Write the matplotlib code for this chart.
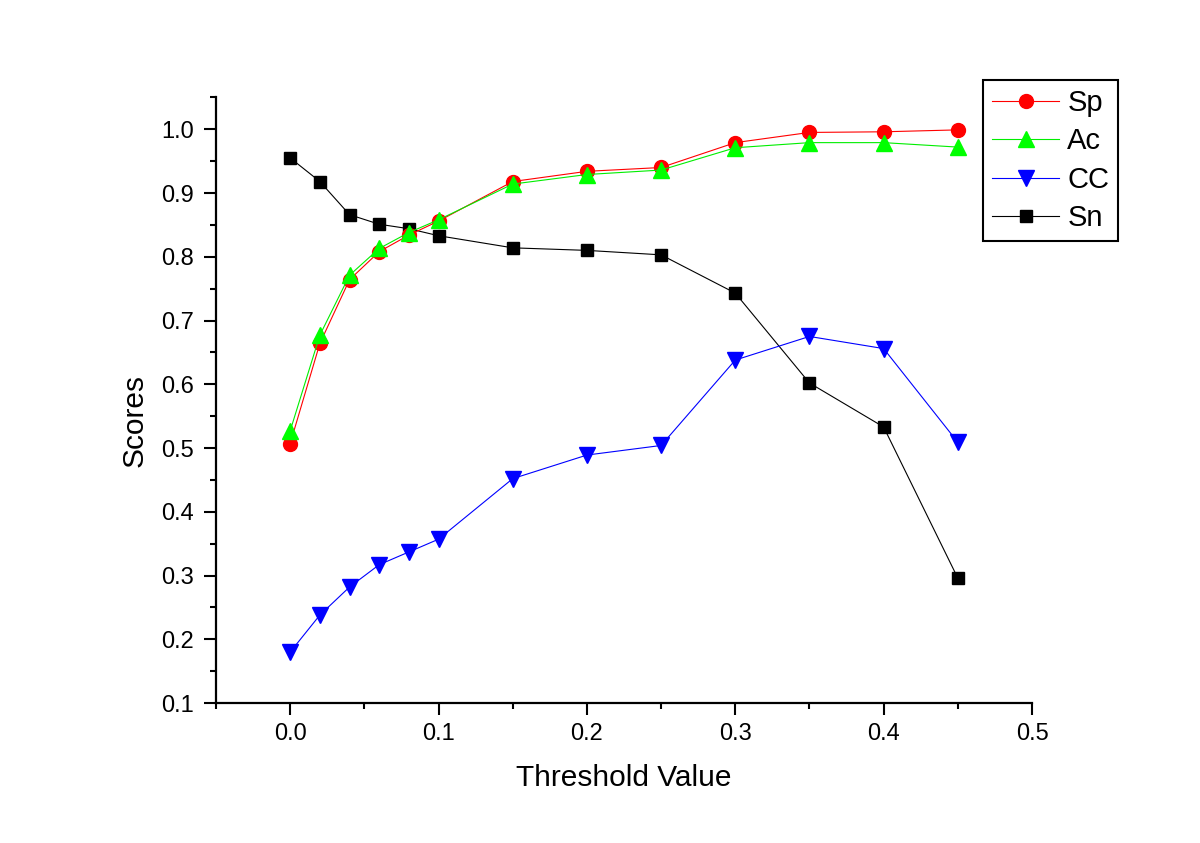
import matplotlib
matplotlib.use("Agg")
import matplotlib.pyplot as plt
from matplotlib.ticker import MultipleLocator, FormatStrFormatter

plt.rcParams['font.family'] = ['Liberation Sans', 'DejaVu Sans']

# Data
threshold = [0.0, 0.02, 0.04, 0.06, 0.08, 0.1, 0.15, 0.2, 0.25, 0.3, 0.35, 0.4, 0.45]
sp = [0.507, 0.664, 0.764, 0.808, 0.834, 0.856, 0.918, 0.934, 0.940, 0.979, 0.995, 0.996, 0.999]
ac = [0.527, 0.677, 0.771, 0.813, 0.838, 0.858, 0.914, 0.929, 0.936, 0.971, 0.979, 0.979, 0.972]
cc = [0.180, 0.238, 0.282, 0.317, 0.337, 0.357, 0.452, 0.489, 0.504, 0.638, 0.675, 0.656, 0.509]
sn = [0.955, 0.918, 0.866, 0.851, 0.844, 0.833, 0.814, 0.810, 0.803, 0.743, 0.602, 0.533, 0.296]
series_labels = ['Sp', 'Ac', 'CC', 'Sn']

fig = plt.figure(figsize=(12, 8.43), dpi=100)
ax = fig.add_axes([0.18, 0.166, 0.68, 0.7185])

lw = 0.8
h_sn, = ax.plot(threshold, sn, color='black', lw=lw, marker='s', ms=8.4, zorder=3)
h_cc, = ax.plot(threshold, cc, color='#0000ff', lw=lw, marker='v', ms=11, zorder=3)
h_sp, = ax.plot(threshold, sp, color='#ff0000', lw=lw, marker='o', ms=10, zorder=4)
h_ac, = ax.plot(threshold, ac, color='#00ee00', lw=lw, marker='^', ms=11,
                markerfacecolor='#00ff00', markeredgecolor='#00ff00', zorder=5)

ax.set_xlim(-0.05, 0.5)
ax.set_ylim(0.1, 1.05)
ax.xaxis.set_major_locator(MultipleLocator(0.1))
ax.xaxis.set_minor_locator(MultipleLocator(0.05))
ax.yaxis.set_major_locator(MultipleLocator(0.1))
ax.yaxis.set_minor_locator(MultipleLocator(0.05))
ax.xaxis.set_major_formatter(FormatStrFormatter('%.1f'))
ax.yaxis.set_major_formatter(FormatStrFormatter('%.1f'))

for s in ['top', 'right']:
    ax.spines[s].set_visible(False)
for s in ['left', 'bottom']:
    ax.spines[s].set_linewidth(1.6)

ax.tick_params(which='major', direction='out', length=8.6, width=1.5, labelsize=17)
ax.tick_params(axis='y', which='major', pad=7.5)
ax.tick_params(axis='x', which='major', pad=5.5)
ax.tick_params(which='minor', direction='out', length=4.6, width=1.5)

ax.set_xlabel('Threshold Value', fontsize=21.5)
ax.set_ylabel('Scores', fontsize=21.5)
ax.xaxis.set_label_coords(0.5, -0.10)
ax.yaxis.set_label_coords(-0.083, 0.467)

leg = ax.legend([h_sp, h_ac, h_cc, h_sn], series_labels,
                loc='upper right', bbox_to_anchor=(1118 / 1200, 1 - 80 / 843),
                bbox_transform=fig.transFigure, fontsize=21, frameon=True,
                fancybox=False, framealpha=1, edgecolor='black',
                handlelength=2.3, handletextpad=0.28, borderpad=0.3,
                labelspacing=0.36, borderaxespad=0)
leg.get_frame().set_linewidth(1.5)

fig.savefig('out.png', dpi=100)
